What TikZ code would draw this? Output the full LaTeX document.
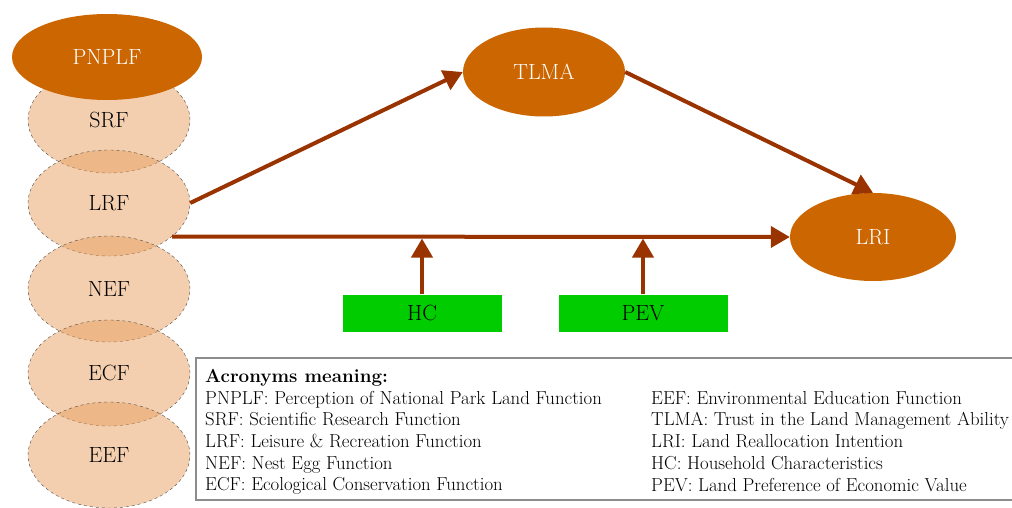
\documentclass[tikz,border=0pt]{standalone}
\usepackage{fontspec}
\usepackage{tikz}
\usepackage{xcolor}
\usetikzlibrary{shapes.geometric, arrows.meta}
\definecolor{parkorange}{RGB}{204, 102, 0}
\definecolor{arrowbrown}{RGB}{153, 51, 0}
\definecolor{funcfill}{RGB}{232, 160, 95}
\definecolor{boxgreen}{RGB}{0, 204, 0}
\definecolor{framegray}{RGB}{140, 140, 140}

\begin{document}
\begin{tikzpicture}[
    x=1pt, y=1pt,
    bigfont/.style={font=\fontsize{22}{26}\selectfont},
    construct/.style={ellipse, fill=parkorange, text=white, inner sep=0pt, bigfont},
    func/.style={ellipse, draw=black!70, dashed, thin, fill=funcfill, fill opacity=0.5, text opacity=1, minimum width=162pt, minimum height=106pt, inner sep=0pt, bigfont},
    control/.style={rectangle, fill=boxgreen, minimum height=37pt, inner sep=0pt, bigfont},
    arrow/.style={-{Triangle[length=19pt, width=21pt]}, line width=4pt, draw=arrowbrown},
    legend/.style={align=left, anchor=north west, inner sep=0pt, font=\fontsize{18.8}{21.7}\selectfont}
]
\useasboundingbox (0,0) rectangle (1012,-508);

% Park land functions
\node[func] (srf) at (109,-120) {SRF};
\node[func] (lrf) at (109,-203) {LRF};
\node[func] (nef) at (109,-289) {NEF};
\node[func] (ecf) at (109,-373) {ECF};
\node[func] (eef) at (109,-455) {EEF};
\node[construct, minimum width=190pt, minimum height=86pt] (pnplf) at (107,-57) {PNPLF};

% Trust and intention
\node[construct, minimum width=162pt, minimum height=89pt] (tlma) at (544,-72) {TLMA};
\node[construct, minimum width=166pt, minimum height=88pt] (lri) at (873,-237) {LRI};

% Controls
\node[control, minimum width=159pt] (hc) at (422,-313) {HC};
\node[control, minimum width=169pt] (pev) at (643,-313) {PEV};

% Arrows
\coordinate (lrfout) at (lrf.-28);
\draw[arrow] (lrf.east) -- (tlma.west);
\draw[arrow] (tlma.east) -- (lri.north);
\draw[arrow] (lrfout) -- (lri.west);
\draw[arrow, shorten >=2pt] (hc.north) -- (hc.north |- lrfout);
\draw[arrow, shorten >=2pt] (pev.north) -- (pev.north |- lrfout);

% Legend
\draw[framegray, line width=1.5pt] (1012,-358) -- (196,-358) -- (196,-500) -- (1012,-500);
\node[legend] (legleft) at (205,-369) {\textbf{Acronyms meaning:}\\
    PNPLF: Perception of National Park Land Function\\
    SRF: Scientific Research Function\\
    LRF: Leisure \& Recreation Function\\
    NEF: Nest Egg Function\\
    ECF: Ecological Conservation Function};
\node[legend] (legright) at (651,-391) {EEF: Environmental Education Function\\
    TLMA: Trust in the Land Management Ability\\
    LRI: Land Reallocation Intention\\
    HC: Household Characteristics\\
    PEV: Land Preference of Economic Value};

\end{tikzpicture}
\end{document}
